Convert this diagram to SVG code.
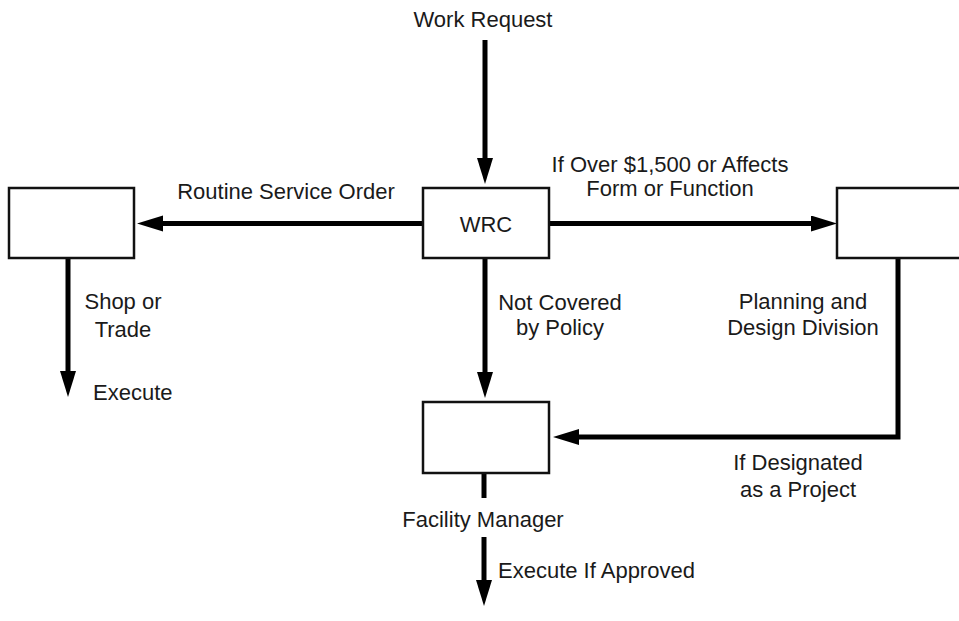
<svg xmlns="http://www.w3.org/2000/svg" width="959" height="621" viewBox="0 0 959 621">
  <style>
    .box { fill: #ffffff; stroke: #111111; stroke-width: 2.5; }
    .conn { fill: none; stroke: #000000; stroke-width: 5; stroke-linejoin: miter; }
    text { font-family: "Liberation Sans", Arial, sans-serif; font-size: 22px; fill: #1a1a1a; }
    .mid { text-anchor: middle; }
  </style>
  <defs>
    <marker id="arrow" markerUnits="userSpaceOnUse" markerWidth="28" markerHeight="18" refX="16" refY="8" orient="auto">
      <path d="M0,0 L26,8 L0,16 Z" fill="#000000"/>
    </marker>
  </defs>
  <rect width="959" height="621" fill="#ffffff"/>

  <g id="connectors">
    <line class="conn" x1="485" y1="40" x2="485" y2="174" marker-end="url(#arrow)"/>
    <line class="conn" x1="423" y1="223.5" x2="147" y2="223.5" marker-end="url(#arrow)"/>
    <line class="conn" x1="549" y1="223.5" x2="827" y2="223.5" marker-end="url(#arrow)"/>
    <line class="conn" x1="68" y1="259" x2="68" y2="387" marker-end="url(#arrow)"/>
    <line class="conn" x1="485" y1="258" x2="485" y2="388" marker-end="url(#arrow)"/>
    <polyline class="conn" points="898,259 898,437 563,437" marker-end="url(#arrow)"/>
    <line class="conn" x1="484" y1="473" x2="484" y2="498"/>
    <line class="conn" x1="484" y1="537" x2="484" y2="596" marker-end="url(#arrow)"/>
  </g>

  <g id="work-request">
    <text class="mid" x="483" y="27">Work Request</text>
  </g>
  <g id="wrc">
    <rect class="box" x="423" y="188" width="126" height="70"/>
    <text class="mid" x="486" y="232">WRC</text>
  </g>
  <g id="shop-or-trade">
    <rect class="box" x="9" y="188" width="125" height="70"/>
    <text class="mid" x="123" y="309">Shop or</text>
    <text class="mid" x="123" y="337">Trade</text>
  </g>
  <g id="planning-design">
    <rect class="box" x="837" y="188" width="126" height="70"/>
    <text class="mid" x="803" y="309">Planning and</text>
    <text class="mid" x="803" y="335">Design Division</text>
  </g>
  <g id="facility-manager">
    <rect class="box" x="423" y="402" width="126" height="71"/>
    <text class="mid" x="483" y="527">Facility Manager</text>
  </g>

  <g id="labels">
    <text class="mid" x="286" y="199">Routine Service Order</text>
    <text class="mid" x="670" y="172">If Over $1,500 or Affects</text>
    <text class="mid" x="670" y="196">Form or Function</text>
    <text x="93" y="400">Execute</text>
    <text class="mid" x="560" y="310">Not Covered</text>
    <text class="mid" x="560" y="335">by Policy</text>
    <text class="mid" x="798" y="470">If Designated</text>
    <text class="mid" x="798" y="497">as a Project</text>
    <text x="498" y="578">Execute If Approved</text>
  </g>
</svg>
